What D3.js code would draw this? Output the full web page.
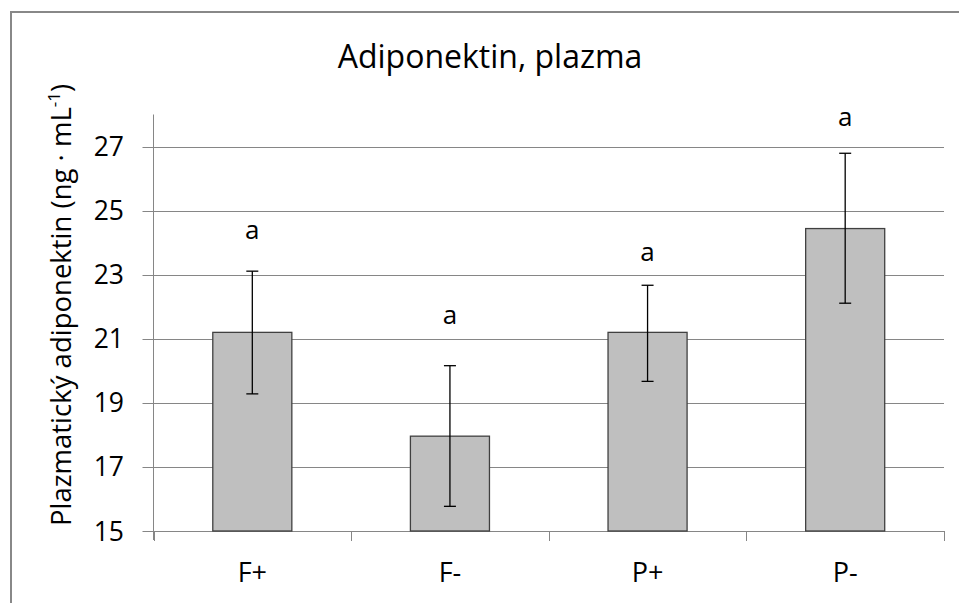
<!DOCTYPE html>
<html>
<head>
<meta charset="utf-8">
<script src="https://cdn.jsdelivr.net/npm/d3@7"></script>
<style>
  body { margin: 0; background: #fff; }
  text { font-family: "Open Sans", sans-serif; fill: #000; }
</style>
</head>
<body>
<div id="chart"></div>
<script>
// values
var groups = ['F+', 'F-', 'P+', 'P-'];
var means = [21.2, 17.96, 21.2, 24.44];
var err_low = [19.28, 15.77, 19.67, 22.11];
var err_high = [23.11, 20.16, 22.67, 26.79];
var letters = ['a', 'a', 'a', 'a'];
var letter_at = [24.1, 21.45, 23.43, 27.64];
var y_ticks = [15, 17, 19, 21, 23, 25, 27];

var width = 959, height = 603;
var plot = {left: 153.5, right: 944, top: 114.5, bottom: 531};
var gridColor = '#868686';

var svg = d3.select('#chart')
  .append('svg')
  .attr('width', width)
  .attr('height', height);

// outer frame of the chart object
svg.append('rect')
  .attr('x', 11)
  .attr('y', 12)
  .attr('width', 1000)
  .attr('height', 700)
  .attr('fill', 'none')
  .attr('stroke', '#888')
  .attr('stroke-width', 2);

var y = d3.scaleLinear()
  .domain([15, 28])
  .range([plot.bottom, plot.top]);

var x = d3.scaleBand()
  .domain(groups)
  .range([plot.left, plot.right])
  .paddingInner(0.6)
  .paddingOuter(0.3);

// gridlines
svg.append('g')
  .selectAll('line')
  .data(y_ticks)
  .enter()
  .append('line')
  .attr('x1', plot.left - 11)
  .attr('x2', plot.right)
  .attr('y1', function(d) { return Math.round(y(d)) + 0.5; })
  .attr('y2', function(d) { return Math.round(y(d)) + 0.5; })
  .attr('stroke', gridColor)
  .attr('stroke-width', 1);

// y axis line
svg.append('line')
  .attr('x1', plot.left).attr('x2', plot.left)
  .attr('y1', plot.top).attr('y2', plot.bottom + 9)
  .attr('stroke', gridColor);

// x axis ticks between the categories
var step = x.step();
var first_edge = x(groups[0]) - (step - x.bandwidth()) / 2;
var boundaries = d3.range(groups.length + 1).map(function(i) {
  return first_edge + i * step;
});
svg.append('g')
  .selectAll('line')
  .data(boundaries)
  .enter()
  .append('line')
  .attr('x1', function(d) { return Math.round(d) + 0.5; })
  .attr('x2', function(d) { return Math.round(d) + 0.5; })
  .attr('y1', plot.bottom)
  .attr('y2', plot.bottom + 10)
  .attr('stroke', gridColor);

// y tick labels
svg.append('g')
  .selectAll('text')
  .data(y_ticks)
  .enter()
  .append('text')
  .attr('x', 124)
  .attr('y', function(d) { return y(d) + 9.5; })
  .attr('text-anchor', 'end')
  .attr('font-size', '26.5px')
  .text(function(d) { return d; });

// bars
svg.append('g')
  .selectAll('rect')
  .data(groups)
  .enter()
  .append('rect')
  .attr('x', function(d) { return x(d); })
  .attr('y', function(d, i) { return y(means[i]); })
  .attr('width', x.bandwidth())
  .attr('height', function(d, i) { return y(15) - y(means[i]); })
  .attr('fill', '#bfbfbf')
  .attr('stroke', '#404040')
  .attr('stroke-width', 1.3);

// error bars
var errs = svg.append('g')
  .attr('stroke', '#000')
  .attr('stroke-width', 1.3);
groups.forEach(function(g, i) {
  var cx = x(g) + x.bandwidth() / 2;
  errs.append('line')
    .attr('x1', cx).attr('x2', cx)
    .attr('y1', y(err_low[i])).attr('y2', y(err_high[i]));
  [err_low[i], err_high[i]].forEach(function(v) {
    errs.append('line')
      .attr('x1', cx - 6).attr('x2', cx + 6)
      .attr('y1', y(v)).attr('y2', y(v));
  });
});

// significance letters
svg.append('g')
  .selectAll('text')
  .data(groups)
  .enter()
  .append('text')
  .attr('x', function(d) { return x(d) + x.bandwidth() / 2; })
  .attr('y', function(d, i) { return y(letter_at[i]); })
  .attr('text-anchor', 'middle')
  .attr('font-size', '26px')
  .text(function(d, i) { return letters[i]; });

// category labels
svg.append('g')
  .selectAll('text')
  .data(groups)
  .enter()
  .append('text')
  .attr('x', function(d) { return x(d) + x.bandwidth() / 2; })
  .attr('y', 582)
  .attr('text-anchor', 'middle')
  .attr('font-size', '27px')
  .text(function(d) { return d; });

// title
svg.append('text')
  .attr('x', 490)
  .attr('y', 68)
  .attr('text-anchor', 'middle')
  .attr('font-size', '32px')
  .text('Adiponektin, plazma');

// y axis title with superscript
var ytitle = svg.append('text')
  .attr('transform', 'translate(71,305) rotate(-90)')
  .attr('text-anchor', 'middle')
  .attr('font-size', '27.5px');
ytitle.append('tspan').text('Plazmatický adiponektin (ng · mL');
ytitle.append('tspan').attr('font-size', '17px').attr('dy', -11).text('-1');
ytitle.append('tspan').attr('dy', 11).text(')');
</script>
</body>
</html>
